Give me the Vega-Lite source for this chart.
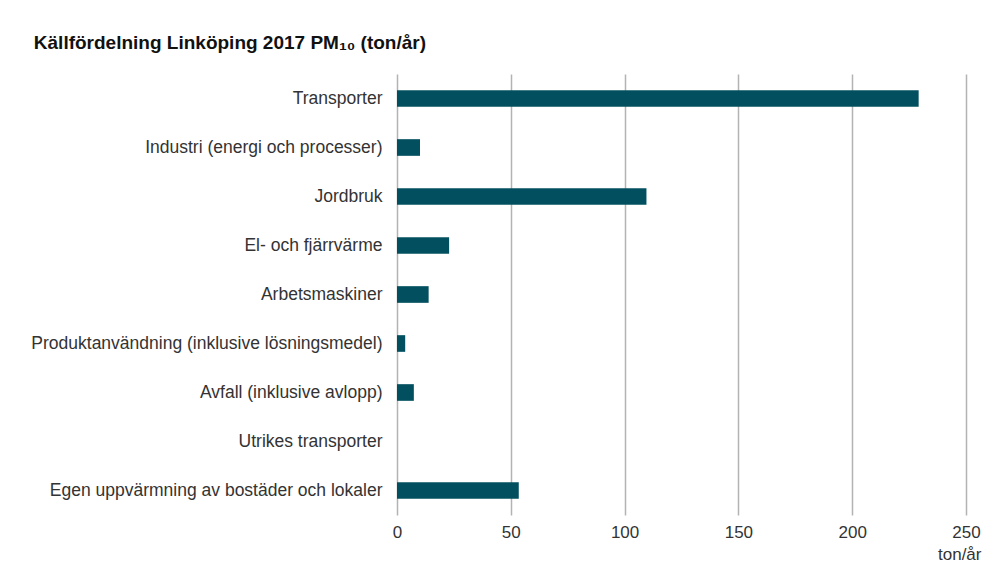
{
  "$schema": "https://vega.github.io/schema/vega-lite/v6.json",
  "autosize": {"type": "none"},
  "width": 569,
  "height": 441,
  "padding": {"left": 397, "top": 74, "right": 42, "bottom": 61},
  "background": "white",
  "title": {
    "text": "Källfördelning Linköping 2017 PM₁₀ (ton/år)",
    "anchor": "start",
    "frame": "bounds",
    "font": "Liberation Sans",
    "fontSize": 19,
    "fontWeight": "bold",
    "color": "#111111",
    "offset": 21,
    "dx": 3
  },
  "data": {
    "values": [
      {"kalla": "Transporter", "ton": 229.2},
      {"kalla": "Industri (energi och processer)", "ton": 10.1},
      {"kalla": "Jordbruk", "ton": 109.6},
      {"kalla": "El- och fjärrvärme", "ton": 22.9},
      {"kalla": "Arbetsmaskiner", "ton": 13.9},
      {"kalla": "Produktanvändning (inklusive lösningsmedel)", "ton": 3.6},
      {"kalla": "Avfall (inklusive avlopp)", "ton": 7.4},
      {"kalla": "Utrikes transporter", "ton": 0},
      {"kalla": "Egen uppvärmning av bostäder och lokaler", "ton": 53.5}
    ]
  },
  "mark": {"type": "bar", "color": "#02505f"},
  "encoding": {
    "y": {
      "field": "kalla",
      "type": "nominal",
      "sort": null,
      "scale": {"paddingInner": 0.66, "paddingOuter": 0.33},
      "axis": {
        "title": null,
        "domain": false,
        "ticks": false,
        "grid": false,
        "labelFont": "Liberation Sans",
        "labelFontSize": 17.5,
        "labelColor": "#333333",
        "labelPadding": 15,
        "labelLimit": 500
      }
    },
    "x": {
      "field": "ton",
      "type": "quantitative",
      "scale": {"domain": [0, 250], "nice": false},
      "axis": {
        "values": [0, 50, 100, 150, 200, 250],
        "title": "ton/år",
        "titleFont": "Liberation Sans",
        "titleFontSize": 17,
        "titleFontWeight": "normal",
        "titleColor": "#333333",
        "titleAlign": "right",
        "titleAnchor": "end",
        "titleX": 584,
        "titleY": 31,
        "domain": false,
        "ticks": false,
        "grid": true,
        "gridColor": "#b3b3b3",
        "gridWidth": 1.5,
        "labelFont": "Liberation Sans",
        "labelFontSize": 17,
        "labelColor": "#333333",
        "labelPadding": 9,
        "labelFlush": false
      }
    }
  },
  "config": {"view": {"stroke": null}}
}
